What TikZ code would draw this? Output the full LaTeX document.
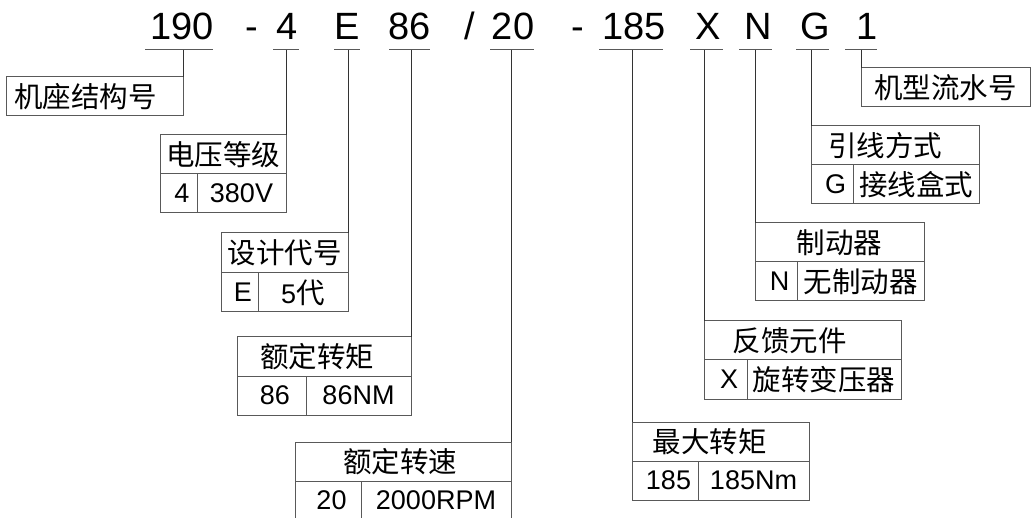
\documentclass[tikz,border=0pt]{standalone}
\usepackage{fontspec}
\setmainfont{Liberation Sans}
\newfontfamily\cjk{Noto Sans CJK SC}
\usepackage{tikz}

\newcommand{\zh}[1]{{\cjk\fontsize{28.5}{32}\selectfont #1}}
\colorlet{linegray}{black!65}

\tikzset{
  cell/.style={draw=linegray, line width=1pt, inner sep=0pt, outer sep=0pt,
    anchor=north west, minimum height=39pt, font=\fontsize{27}{32}\selectfont},
  keycell/.style={cell, execute at begin node={\kern7pt}},
  code/.style={anchor=base, inner sep=0pt, font=\fontsize{38}{44}\selectfont},
  uline/.style={draw=linegray, line width=1pt},
  link/.style={draw=black!80, line width=1pt}
}

\begin{document}
\begin{tikzpicture}[x=1pt, y=-1pt]
  \useasboundingbox (0,0) rectangle (1033,518);

  % Type code, one node per field
  \node[code] (c190) at (182,40) {190};
  \node[code] (dashA) at (252,40) {-};
  \node[code] (c4) at (287,40) {4};
  \node[code] (cE) at (347,40) {E};
  \node[code] (c86) at (410,40) {86};
  \node[code] (slash) at (470,40) {/};
  \node[code] (c20) at (513,40) {20};
  \node[code] (dashB) at (578,40) {-};
  \node[code] (c185) at (634,40) {185};
  \node[code] (cX) at (708,40) {X};
  \node[code] (cN) at (758,40) {N};
  \node[code] (cG) at (815,40) {G};
  \node[code] (c1) at (867,40) {1};

  % Underlines and the points where the leader lines start
  \foreach \nm/\a/\b/\c in {190/145/213/183, 4/273/299/286, E/334/360/348,
      86/389/430/411, 20/490/534/511, 185/599/663/632, X/690/723/704,
      N/739/772/755, G/796/829/811, 1/845/877/861}
  {
    \draw[uline] (\a,50) -- (\b,50);
    \coordinate (u\nm) at (\c,50);
  }

  % Frame size
  \node[cell, minimum width=177pt] (frame) at (6,77) {\zh{机座结构号}\kern18pt};

  % Voltage class
  \node[cell, minimum width=126pt] (volt) at (160,135) {\zh{电压等级}};
  \node[keycell, minimum width=37pt] (voltkey) at (volt.south west) {4};
  \node[cell, minimum width=89pt] (voltval) at (voltkey.north east) {380V};

  % Design code
  \node[cell, minimum width=127pt, minimum height=40pt] (design) at (221,233) {\zh{设计代号}};
  \node[keycell, minimum width=37pt] (designkey) at (design.south west) {E};
  \node[cell, minimum width=90pt] (designval) at (designkey.north east) {5\zh{代}};

  % Rated torque
  \node[cell, minimum width=174pt] (torque) at (237,337) {\zh{额定转矩}\kern14pt};
  \node[keycell, minimum width=69pt] (torquekey) at (torque.south west) {86};
  \node[cell, minimum width=105pt] (torqueval) at (torquekey.north east) {86NM};

  % Rated speed
  \node[cell, minimum width=216pt] (speed) at (295,442) {\zh{额定转速}\kern6pt};
  \node[keycell, minimum width=66pt] (speedkey) at (speed.south west) {20};
  \node[cell, minimum width=150pt] (speedval) at (speedkey.north east) {2000RPM};

  % Peak torque
  \node[cell, minimum width=177pt] (peak) at (632,422) {\zh{最大转矩}\kern22pt};
  \node[keycell, minimum width=66pt] (peakkey) at (peak.south west) {185};
  \node[cell, minimum width=111pt] (peakval) at (peakkey.north east) {185Nm};

  % Feedback device
  \node[cell, minimum width=197pt] (feedback) at (704,321) {\zh{反馈元件}\kern26pt};
  \node[keycell, minimum width=43pt] (feedbackkey) at (feedback.south west) {X};
  \node[cell, minimum width=154pt] (feedbackval) at (feedbackkey.north east) {\zh{旋转变压器}};

  % Brake
  \node[cell, minimum width=169pt] (brake) at (755,223) {\zh{制动器}};
  \node[keycell, minimum width=42pt] (brakekey) at (brake.south west) {N};
  \node[cell, minimum width=127pt] (brakeval) at (brakekey.north east) {\zh{无制动器}};

  % Lead-out type
  \node[cell, minimum width=168pt] (lead) at (811,126) {\zh{引线方式}\kern20pt};
  \node[keycell, minimum width=42pt] (leadkey) at (lead.south west) {G};
  \node[cell, minimum width=126pt] (leadval) at (leadkey.north east) {\zh{接线盒式}};

  % Serial number
  \node[cell, minimum width=169pt] (serial) at (861,68) {\zh{机型流水号}};

  % Leader lines from the underlines to the boxes
  \draw[link] (u190) -- (frame.north east);
  \draw[link] (u4) -- (volt.north east);
  \draw[link] (uE) -- (design.north east);
  \draw[link] (u86) -- (torque.north east);
  \draw[link] (u20) -- (speed.north east);
  \draw[link] (u185) -- (peak.north west);
  \draw[link] (uX) -- (feedback.north west);
  \draw[link] (uN) -- (brake.north west);
  \draw[link] (uG) -- (lead.north west);
  \draw[link] (u1) -- (serial.north west);
\end{tikzpicture}
\end{document}
